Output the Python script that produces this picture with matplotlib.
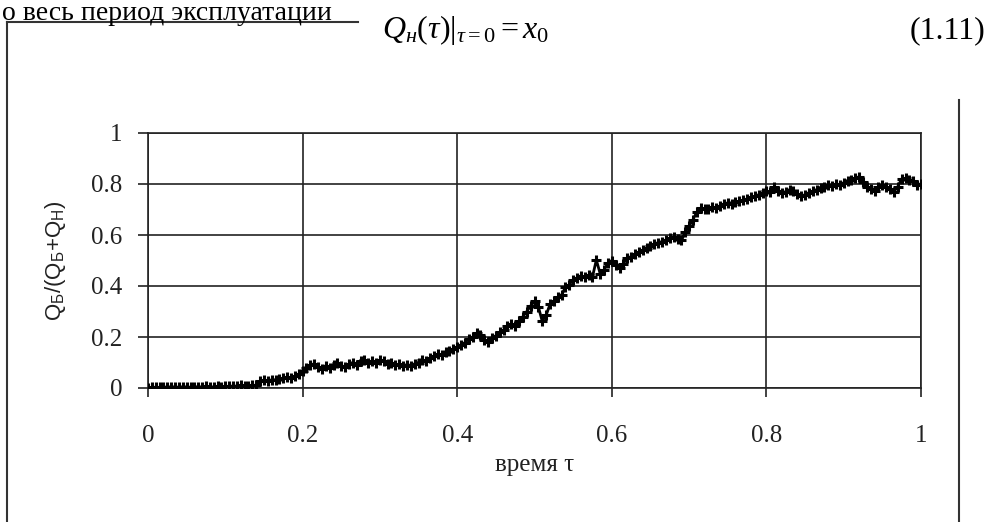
"""
Доля QБ/(QБ+QН) во времени, рисунок из отчёта (скан страницы).
"""
import numpy as np
import matplotlib
matplotlib.use("Agg")
import matplotlib.pyplot as plt
from matplotlib.lines import Line2D

# значения кривой, шаг по времени 0.005
SHARE = [
    0.000, 0.002, 0.003, 0.002, 0.004, 0.003, 0.005, 0.004, 0.003, 0.005,
    0.004, 0.003, 0.004, 0.005, 0.004, 0.006, 0.005, 0.004, 0.006, 0.005,
    0.007, 0.006, 0.008, 0.007, 0.010, 0.008, 0.009, 0.011, 0.010, 0.026,
    0.030, 0.028, 0.032, 0.030, 0.036, 0.038, 0.042, 0.040, 0.046, 0.055,
    0.065, 0.078, 0.090, 0.095, 0.082, 0.075, 0.088, 0.080, 0.092, 0.098,
    0.088, 0.082, 0.094, 0.100, 0.092, 0.104, 0.110, 0.100, 0.106, 0.098,
    0.108, 0.104, 0.096, 0.100, 0.090, 0.094, 0.086, 0.092, 0.088, 0.095,
    0.100, 0.110, 0.106, 0.118, 0.124, 0.132, 0.128, 0.140, 0.146, 0.152,
    0.160, 0.170, 0.178, 0.192, 0.200, 0.215, 0.208, 0.190, 0.182, 0.196,
    0.205, 0.218, 0.228, 0.245, 0.252, 0.242, 0.262, 0.280, 0.300, 0.322,
    0.340, 0.318, 0.262, 0.285, 0.328, 0.340, 0.355, 0.365, 0.395, 0.405,
    0.425, 0.432, 0.440, 0.435, 0.442, 0.436, 0.502, 0.448, 0.462, 0.490,
    0.500, 0.482, 0.472, 0.488, 0.510, 0.515, 0.525, 0.532, 0.540, 0.548,
    0.555, 0.565, 0.570, 0.574, 0.580, 0.588, 0.592, 0.585, 0.580, 0.610,
    0.635, 0.660, 0.690, 0.705, 0.702, 0.700, 0.708, 0.704, 0.715, 0.722,
    0.726, 0.720, 0.728, 0.732, 0.736, 0.742, 0.748, 0.752, 0.758, 0.765,
    0.772, 0.768, 0.788, 0.772, 0.765, 0.770, 0.778, 0.774, 0.762, 0.752,
    0.758, 0.766, 0.772, 0.778, 0.786, 0.790, 0.796, 0.794, 0.800, 0.798,
    0.805, 0.812, 0.816, 0.824, 0.828, 0.808, 0.790, 0.782, 0.772, 0.790,
    0.796, 0.788, 0.780, 0.770, 0.790, 0.820, 0.822, 0.816, 0.812, 0.798,
    0.800,
]
TIME = np.linspace(0.0, 1.0, len(SHARE))

X_TICKS = [0, 0.2, 0.4, 0.6, 0.8, 1]
X_TICK_LABELS = ["0", "0.2", "0.4", "0.6", "0.8", "1"]
Y_TICKS = [0, 0.2, 0.4, 0.6, 0.8, 1]
Y_TICK_LABELS = ["0", "0.2", "0.4", "0.6", "0.8", "1"]

X_LABEL = "время τ"
Y_LABEL = r"$\mathregular{Q_{Б}/(Q_{Б}{+}Q_{Н})}$"

TOP_TEXT = "о весь период эксплуатации"
FORMULA = r"$Q_{н}(\tau)|_{\tau=0} = x_0$"
FORMULA_NO = "(1.11)"

plt.rcParams["font.family"] = ["Liberation Serif", "DejaVu Serif"]
plt.rcParams["mathtext.fontset"] = "custom"
plt.rcParams["mathtext.rm"] = "Liberation Serif"
plt.rcParams["mathtext.it"] = "Liberation Serif:italic"
plt.rcParams["mathtext.bf"] = "Liberation Serif:bold"

W, H = 990, 522
fig = plt.figure(figsize=(W / 100, H / 100), dpi=100)
fig.patch.set_facecolor("white")

# область графика в пикселях скана: x 148..921, y 133..388
ax = fig.add_axes([148 / W, (H - 388) / H, (921 - 148) / W, (388 - 133) / H])

ax.plot(TIME, SHARE, color="black", lw=2.0, marker="+", ms=7, mew=2.2, zorder=3)

ax.set_xlim(0, 1)
ax.set_ylim(0, 1)
ax.set_xticks(X_TICKS)
ax.set_xticklabels(X_TICK_LABELS)
ax.set_yticks(Y_TICKS)
ax.set_yticklabels(Y_TICK_LABELS)
ax.tick_params(axis="x", direction="out", length=6.5, width=1.2, pad=20, labelsize=18, colors="#222222")
ax.tick_params(axis="y", direction="out", length=7.5, width=1.2, pad=11, labelsize=18, colors="#222222")
ax.grid(True, color="#222222", lw=1.2)
for s in ax.spines.values():
    s.set_color("#222222")
    s.set_linewidth(1.2)

ax.set_xlabel(X_LABEL, fontsize=18, color="#222222")
ax.xaxis.set_label_coords(0.5, -0.30)
ax.xaxis.label.set_va("center")
ax.set_ylabel(Y_LABEL, fontsize=16, family="Liberation Sans", color="#222222")
ax.yaxis.set_label_coords((55 - 148) / 773, 0.5)
ax.yaxis.label.set_va("center")

# остатки страницы вокруг рисунка
fig.text(0.002, 1 - 20 / H, TOP_TEXT, fontsize=20, va="baseline", ha="left")
fig.text(382 / W, 1 - 38 / H, FORMULA, fontsize=23, va="baseline", ha="left")
fig.text(985 / W, 1 - 38 / H, FORMULA_NO, fontsize=23, va="baseline", ha="right")

frame = dict(color="#333333", lw=1.5, transform=fig.transFigure)
fig.add_artist(Line2D([7 / W, 7 / W], [0, 1 - 22 / H], **frame))
fig.add_artist(Line2D([7 / W, 358 / W], [1 - 22 / H, 1 - 22 / H], **frame))
fig.add_artist(Line2D([959 / W, 959 / W], [0, 1 - 100 / H], **frame))

fig.savefig("out.png", dpi=100)
